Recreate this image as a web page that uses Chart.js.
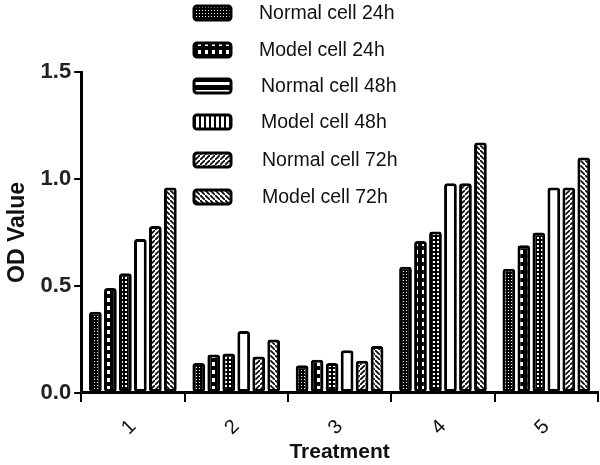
<!DOCTYPE html>
<html>
<head>
<meta charset="utf-8">
<script src="https://cdn.jsdelivr.net/npm/chart.js@4"></script>
<style>
  html, body { margin: 0; padding: 0; background: #fff; }
  #wrap { width: 600px; height: 465px; }
</style>
</head>
<body>
<div id="wrap"><canvas id="myChart" width="600" height="465"></canvas></div>
<script>
// datos
const tratamientos = ['1', '2', '3', '4', '5'];
const nombres = ['Normal cell 24h', 'Model cell 24h', 'Normal cell 48h', 'Model cell 48h', 'Normal cell 72h', 'Model cell 72h'];
const normal24 = [0.38, 0.14, 0.13, 0.59, 0.58];
const model24 = [0.49, 0.18, 0.155, 0.71, 0.69];
const normal48 = [0.56, 0.185, 0.14, 0.755, 0.75];
const model48 = [0.72, 0.29, 0.20, 0.98, 0.96];
const normal72 = [0.78, 0.17, 0.15, 0.98, 0.96];
const model72 = [0.96, 0.25, 0.22, 1.17, 1.10];
const ticksY = [0, 0.5, 1.0, 1.5];

// patrones de relleno
function patron(tipo) {
  let c = document.createElement('canvas');
  let g = c.getContext('2d');
  if (tipo == 'puntos') {
    c.width = 3; c.height = 3;
    g.fillStyle = '#000'; g.fillRect(0, 0, 3, 3);
    g.fillStyle = '#fff'; g.fillRect(1, 1, 1, 1);
  } else if (tipo == 'cuadros') {
    c.width = 7; c.height = 8;
    g.fillStyle = '#000'; g.fillRect(0, 0, 7, 8);
    g.fillStyle = '#fff'; g.fillRect(2, 2, 3, 4);
  } else if (tipo == 'horizontal') {
    c.width = 4; c.height = 4;
    g.fillStyle = '#000'; g.fillRect(0, 0, 4, 4);
    g.fillStyle = '#fff'; g.fillRect(1, 1, 2, 2);
  } else if (tipo == 'blanco') {
    c.width = 4; c.height = 4;
    g.fillStyle = '#fff'; g.fillRect(0, 0, 4, 4);
  } else if (tipo == 'franjaH') {
    c.width = 4; c.height = 8;
    g.fillStyle = '#000'; g.fillRect(0, 0, 4, 8);
    g.fillStyle = '#fff'; g.fillRect(0, 2, 4, 3);
  } else if (tipo == 'franjaV') {
    c.width = 5; c.height = 4;
    g.fillStyle = '#000'; g.fillRect(0, 0, 5, 4);
    g.fillStyle = '#fff'; g.fillRect(1, 0, 3, 4);
  } else if (tipo == 'diag1') {
    c.width = 5; c.height = 5;
    g.fillStyle = '#fff'; g.fillRect(0, 0, 5, 5);
    g.strokeStyle = '#000'; g.lineWidth = 1.6;
    g.beginPath(); g.moveTo(-1, 6); g.lineTo(6, -1); g.stroke();
  } else {
    c.width = 5; c.height = 5;
    g.fillStyle = '#fff'; g.fillRect(0, 0, 5, 5);
    g.strokeStyle = '#000'; g.lineWidth = 1.6;
    g.beginPath(); g.moveTo(-1, -1); g.lineTo(6, 6); g.stroke();
  }
  return document.getElementById('myChart').getContext('2d').createPattern(c, 'repeat');
}

const series = [normal24, model24, normal48, model48, normal72, model72];
const tiposBarra = ['puntos', 'cuadros', 'horizontal', 'blanco', 'diag1', 'diag2'];
const tiposLeyenda = ['puntos', 'cuadros', 'franjaH', 'franjaV', 'diag1', 'diag2'];
const rellenoLeyenda = tiposLeyenda.map(patron);

const datasets = series.map(function (s, i) {
  return {
    label: nombres[i],
    data: s,
    backgroundColor: patron(tiposBarra[i]),
    borderColor: '#000',
    borderWidth: 3,
    borderRadius: 3,
    borderSkipped: false,
    barPercentage: 0.85,
    categoryPercentage: 0.87
  };
});

// leyenda vertical dibujada a mano
const leyenda = {
  id: 'leyenda',
  afterDraw(chart) {
    const ctx = chart.ctx;
    const filas = [13, 50, 86, 122, 160, 197];
    const textoX = [259, 259, 261, 261, 262, 262];
    ctx.save();
    chart.data.datasets.forEach(function (d, i) {
      let y = filas[i];
      ctx.beginPath();
      ctx.roundRect(194, y - 7, 37, 14, 3);
      ctx.fillStyle = rellenoLeyenda[i];
      ctx.fill();
      ctx.lineWidth = 3;
      ctx.strokeStyle = '#000';
      ctx.stroke();
      ctx.fillStyle = '#111';
      ctx.font = '19.5px "Liberation Sans"';
      ctx.textBaseline = 'middle';
      ctx.fillText(d.label, textoX[i], y + 1);
    });
    ctx.restore();
  }
};

const ctx = document.getElementById('myChart').getContext('2d');
const chart = new Chart(ctx, {
  type: 'bar',
  data: { labels: tratamientos, datasets: datasets },
  options: {
    responsive: false,
    animation: false,
    layout: { padding: { top: 72, right: 2, left: 4, bottom: 0 } },
    plugins: { legend: { display: false }, tooltip: { enabled: false } },
    scales: {
      x: {
        grid: { display: true, drawOnChartArea: false, color: '#000', lineWidth: 2, tickLength: 9 },
        border: { color: '#000', width: 3 },
        ticks: {
          color: '#111',
          font: { family: 'Liberation Sans', size: 20 },
          minRotation: 45,
          maxRotation: 45,
          padding: 13
        },
        title: {
          display: true,
          text: 'Treatment',
          color: '#111',
          font: { family: 'Liberation Sans', size: 21, weight: 'bold' },
          padding: { top: -13, bottom: 0 }
        }
      },
      y: {
        min: 0,
        max: 1.5,
        afterBuildTicks: function (axis) {
          axis.ticks = ticksY.map(function (v) { return { value: v }; });
        },
        grid: { display: true, drawOnChartArea: false, color: '#000', lineWidth: 2, tickLength: 7 },
        border: { color: '#000', width: 3 },
        ticks: {
          color: '#222',
          font: { family: 'Liberation Sans', size: 22, weight: 'bold' },
          padding: 3,
          callback: function (v) { return Number(v).toFixed(1); }
        },
        title: {
          display: true,
          text: 'OD Value',
          color: '#111',
          font: { family: 'Liberation Sans', size: 23, weight: 'bold' },
          padding: { top: 0, bottom: 6 }
        }
      }
    }
  },
  plugins: [leyenda]
});
</script>
</body>
</html>
